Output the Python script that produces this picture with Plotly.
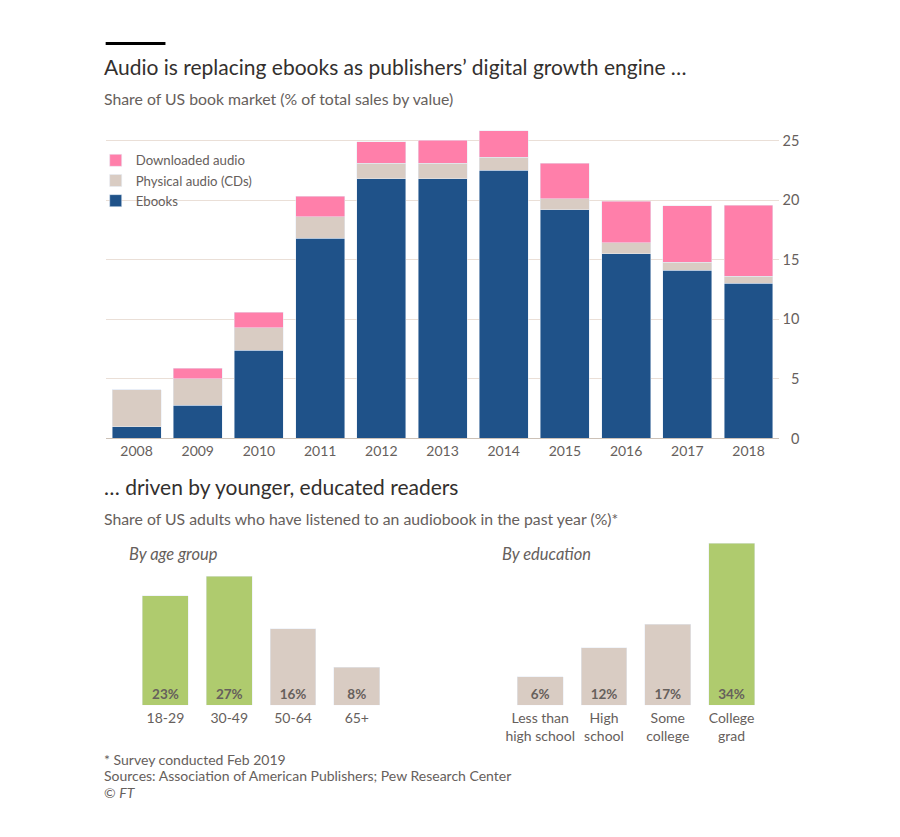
import plotly.graph_objects as go

W, H = 900, 837
H_EFF = 827.6  # empirical vertical scale of the rendered page

years = ["2008", "2009", "2010", "2011", "2012", "2013", "2014", "2015", "2016", "2017", "2018"]
ebooks = [1.0, 2.8, 7.4, 16.8, 21.8, 21.8, 22.5, 19.2, 15.5, 14.1, 13.0]
physical = [3.1, 2.2, 1.9, 1.8, 1.3, 1.3, 1.1, 0.9, 0.9, 0.7, 0.6]
downloaded = [0.0, 0.9, 1.3, 1.7, 1.8, 1.9, 2.2, 3.0, 3.5, 4.7, 5.95]

age_groups = ["18-29", "30-49", "50-64", "65+"]
age_values = [23, 27, 16, 8]
edu_groups = ["Less than<br>high school", "High<br>school", "Some<br>college", "College<br>grad"]
edu_values = [6, 12, 17, 34]

BLUE = "#1f5289"
BEIGE = "#d9ccc3"
PINK = "#ff7faa"
GREEN = "#afcb6e"
TXT = "#66605c"
DARK = "#33302e"
FONT = "Lato"


def px_x(x):
    return x / W


def px_y(y):
    return 1 - y / H_EFF


fig = go.Figure()
fig.add_trace(go.Bar(x=years, y=ebooks, name="Ebooks", marker_color=BLUE, xaxis="x", yaxis="y"))
fig.add_trace(go.Bar(x=years, y=physical, name="Physical audio (CDs)", marker_color=BEIGE, xaxis="x", yaxis="y"))
fig.add_trace(go.Bar(x=years, y=downloaded, name="Downloaded audio", marker_color=PINK, xaxis="x", yaxis="y"))

age_colors = [GREEN if v > 20 else BEIGE for v in age_values]
edu_colors = [GREEN if v > 20 else BEIGE for v in edu_values]
fig.add_trace(go.Bar(x=age_groups, y=age_values, marker_color=age_colors, showlegend=False,
                     text=[f"{v}%" for v in age_values], textposition="inside", insidetextanchor="start",
                     textfont=dict(color=TXT, size=13.5, family=FONT, weight=700),
                     xaxis="x2", yaxis="y2", width=0.72))
fig.add_trace(go.Bar(x=edu_groups, y=edu_values, marker_color=edu_colors, showlegend=False,
                     text=[f"{v}%" for v in edu_values], textposition="inside", insidetextanchor="start",
                     textfont=dict(color=TXT, size=13.5, family=FONT, weight=700),
                     xaxis="x3", yaxis="y3", width=0.72))

# top chart geometry
top_bottom = 437.7
unit = 11.9
top_range = 26.5
top_top = top_bottom - top_range * unit

# bottom charts geometry
b_bottom = 704
b_unit = 4.76
b_range = 36
b_top = b_bottom - b_range * b_unit

fig.update_layout(
    width=W, height=H,
    margin=dict(l=0, r=0, t=0, b=0),
    paper_bgcolor="white", plot_bgcolor="rgba(0,0,0,0)",
    barmode="stack", bargap=0.2,
    font=dict(family=FONT, color=TXT, size=13),
    showlegend=True,
    legend=dict(x=px_x(93), y=px_y(145), xanchor="left", yanchor="top",
                bgcolor="rgba(0,0,0,0)", font=dict(size=13.2, color=TXT),
                traceorder="reversed", tracegroupgap=0, itemwidth=30),
    xaxis=dict(domain=[px_x(103.3), px_x(778.7)], range=[-0.5, 10.5], showgrid=False,
               showline=True, linecolor="#ccc1b7", linewidth=1, ticks="",
               tickfont=dict(size=14, color=TXT), anchor="y"),
    yaxis=dict(domain=[px_y(top_bottom), px_y(top_top)], range=[0, top_range],
               tickvals=[0, 5, 10, 15, 20, 25], showgrid=True, gridcolor="#eadfd7",
               zeroline=False, side="left", anchor="free", position=px_x(799),
               tickfont=dict(size=14.5, color=TXT), ticks=""),
    xaxis2=dict(domain=[px_x(131), px_x(387)], range=[-0.5, 3.5], showgrid=False, showline=False,
                ticks="", tickfont=dict(size=14, color=TXT), anchor="y2", ticklabelstandoff=3),
    yaxis2=dict(domain=[px_y(b_bottom), px_y(b_top)], range=[0, b_range], visible=False, anchor="x2"),
    xaxis3=dict(domain=[px_x(507), px_x(763)], range=[-0.5, 3.5], showgrid=False, showline=False,
                ticks="", tickfont=dict(size=14, color=TXT), anchor="y3", ticklabelstandoff=3),
    yaxis3=dict(domain=[px_y(b_bottom), px_y(b_top)], range=[0, b_range], visible=False, anchor="x3"),
)

fig.add_shape(type="rect", xref="paper", yref="paper",
              x0=px_x(103), x1=px_x(163), y0=px_y(45), y1=px_y(42),
              fillcolor="#000000", line_width=0)


def ann(text, x, y, size, color=TXT, italic=False):
    fig.add_annotation(text=f"<i>{text}</i>" if italic else text, x=px_x(x), y=px_y(y),
                       xref="paper", yref="paper", xanchor="left", yanchor="middle",
                       showarrow=False, font=dict(size=size, color=color, family=FONT))


ann("Audio is replacing ebooks as publishers’ digital growth engine …", 99, 66, 21, DARK)
ann("Share of US book market (% of total sales by value)", 99, 98, 15.8)
ann("… driven by younger, educated readers", 99, 486, 21, DARK)
ann("Share of US adults who have listened to an audiobook in the past year (%)*", 99, 518, 15.8)
ann("By age group", 124, 553, 16.5, italic=True)
ann("By education", 499, 553, 16.5, italic=True)
ann("* Survey conducted Feb 2019", 99, 758, 14)
ann("Sources: Association of American Publishers; Pew Research Center", 99, 774, 14)
ann("© <i>FT</i>", 99, 791, 14)

fig.write_html("out.html")
